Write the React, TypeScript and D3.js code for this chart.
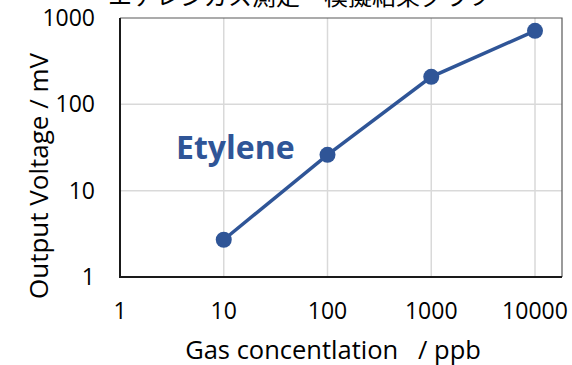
import React, { useEffect, useRef } from "react";
import * as d3 from "d3";

// Ethylene: gas concentration (ppb) vs output voltage (mV)
const concentrations = [10, 100, 1000, 10000];
const voltages = [2.7, 26, 208, 710];
const xTicks = [1, 10, 100, 1000, 10000];
const yTicks = [1, 10, 100, 1000];
const seriesName = "Etylene";
const titleText = "エチレンガス測定・模擬結果グラフ";

const FONT = "'Open Sans', 'Noto Sans CJK JP', sans-serif";
const BLUE = "#2F5597";

export default function App() {
  const ref = useRef<SVGSVGElement>(null);

  useEffect(() => {
    const svg = d3.select(ref.current);
    svg.selectAll("*").remove();

    const width = 572;
    const height = 365;
    const left = 120;
    const top = 18;
    const bottom = 277;
    const frameRight = 562;

    const x = d3.scaleLog().domain([1, 10000]).range([left, 535]);
    const y = d3.scaleLog().domain([1, 1000]).range([bottom, top]);

    svg.attr("width", width).attr("height", height);

    // cut-off title at the top
    svg
      .append("text")
      .attr("x", 300)
      .attr("y", 5)
      .attr("text-anchor", "middle")
      .style("font-family", FONT)
      .style("font-size", "24px")
      .text(titleText);

    // grid
    const grid = svg.append("g");
    grid
      .selectAll("line.gx")
      .data(xTicks.slice(1))
      .join("line")
      .attr("x1", (d) => x(d))
      .attr("x2", (d) => x(d))
      .attr("y1", top)
      .attr("y2", bottom)
      .attr("stroke", "#d9d9d9")
      .attr("stroke-width", 1.5);
    grid
      .selectAll("line.gy")
      .data(yTicks.slice(1, -1))
      .join("line")
      .attr("x1", left)
      .attr("x2", frameRight)
      .attr("y1", (d) => y(d))
      .attr("y2", (d) => y(d))
      .attr("stroke", "#d9d9d9")
      .attr("stroke-width", 1.5);

    // plot frame (top/right)
    svg
      .append("path")
      .attr("d", `M${left},${top}H${frameRight}V${bottom}`)
      .attr("fill", "none")
      .attr("stroke", "#595959")
      .attr("stroke-width", 1.2);

    // axes lines
    svg
      .append("path")
      .attr("d", `M${left},${top}V${bottom}H${frameRight}`)
      .attr("fill", "none")
      .attr("stroke", "#1a1a1a")
      .attr("stroke-width", 2);

    // tick labels
    svg
      .append("g")
      .selectAll("text")
      .data(yTicks)
      .join("text")
      .attr("x", 95)
      .attr("y", (d) => y(d))
      .attr("dy", "0.35em")
      .attr("text-anchor", "end")
      .style("font-family", FONT)
      .style("font-size", "23px")
      .text((d) => String(d));

    svg
      .append("g")
      .selectAll("text")
      .data(xTicks)
      .join("text")
      .attr("x", (d) => x(d))
      .attr("y", 319)
      .attr("text-anchor", "middle")
      .style("font-family", FONT)
      .style("font-size", "23px")
      .text((d) => String(d));

    // axis titles
    svg
      .append("text")
      .attr("x", 333)
      .attr("y", 359)
      .attr("text-anchor", "middle")
      .style("font-family", FONT)
      .style("font-size", "25.5px")
      .style("white-space", "pre")
      .text("Gas concentlation   / ppb");

    svg
      .append("text")
      .attr("transform", "translate(48,176) rotate(-90)")
      .attr("text-anchor", "middle")
      .style("font-family", FONT)
      .style("font-size", "26px")
      .text("Output Voltage / mV");

    // series
    const pts = concentrations.map((c, i) => [c, voltages[i]] as [number, number]);
    const line = d3
      .line<[number, number]>()
      .x((d) => x(d[0]))
      .y((d) => y(d[1]));

    svg
      .append("path")
      .datum(pts)
      .attr("d", line)
      .attr("fill", "none")
      .attr("stroke", BLUE)
      .attr("stroke-width", 3.5);

    svg
      .append("g")
      .selectAll("circle")
      .data(pts)
      .join("circle")
      .attr("cx", (d) => x(d[0]))
      .attr("cy", (d) => y(d[1]))
      .attr("r", 8)
      .attr("fill", BLUE);

    svg
      .append("text")
      .attr("x", 176)
      .attr("y", 159)
      .style("font-family", FONT)
      .style("font-size", "32px")
      .style("font-weight", "bold")
      .attr("fill", BLUE)
      .text(seriesName);
  }, []);

  return <svg ref={ref} style={{ display: "block", position: "absolute", left: 0, top: 0 }} />;
}
